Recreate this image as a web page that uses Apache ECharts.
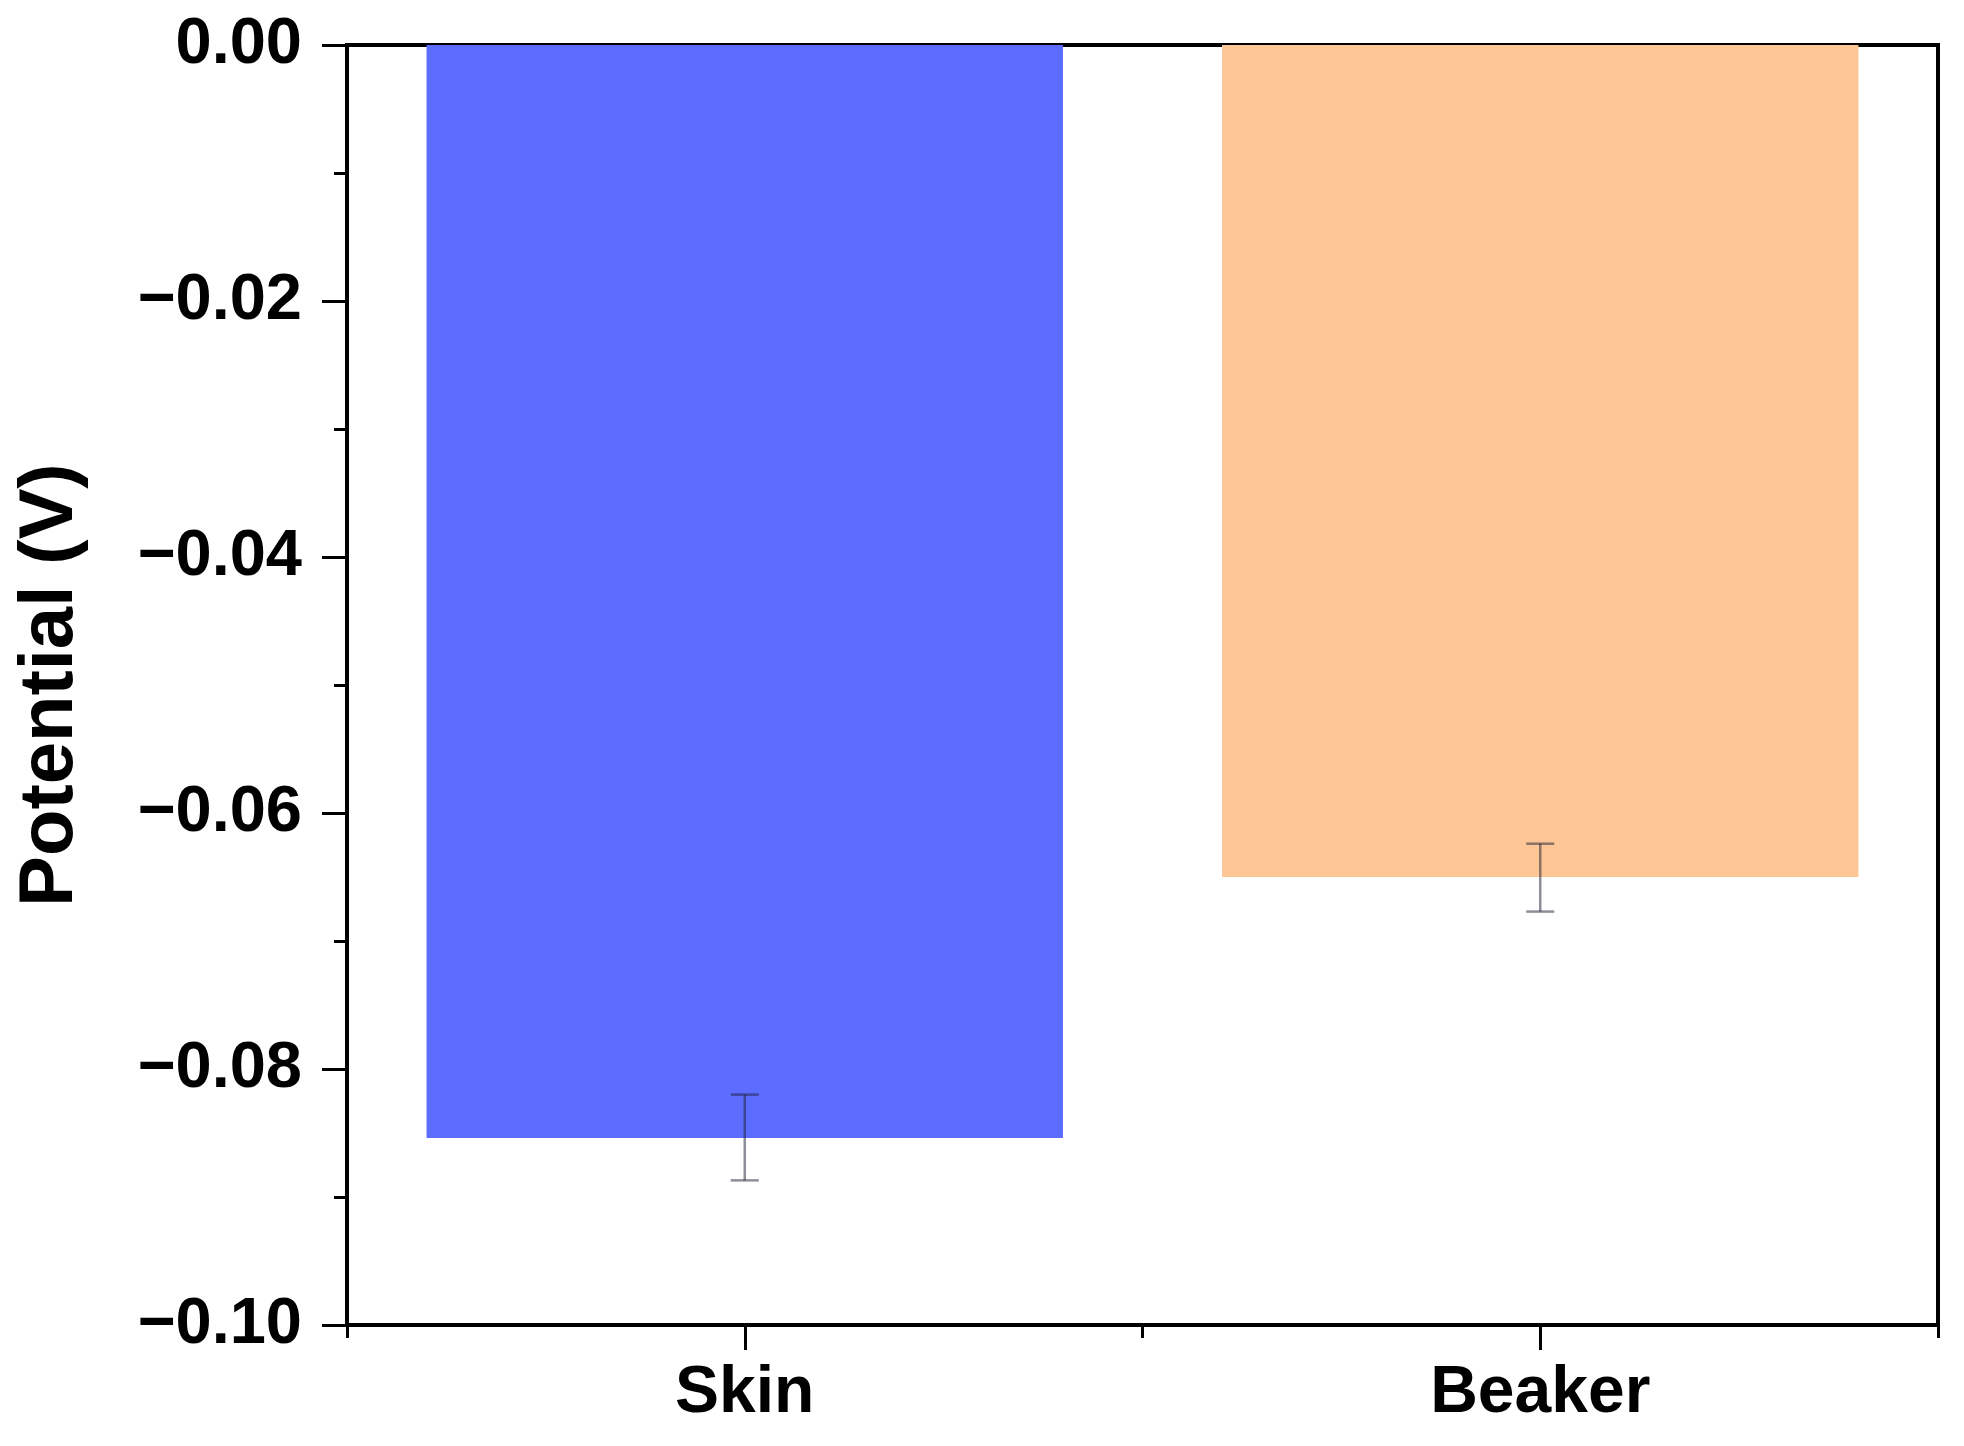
<!DOCTYPE html>
<html>
<head>
<meta charset="utf-8">
<script src="https://cdn.jsdelivr.net/npm/echarts@6/dist/echarts.min.js"></script>
<style>html,body{margin:0;padding:0;background:#fff;}#c{width:1964px;height:1446px;}</style>
</head>
<body>
<div id="c"></div>
<script>
const categories = ['Skin', 'Beaker'];
const potentials = [-0.0854, -0.0650];
const errLow = [-0.0887, -0.0677];
const errHigh = [-0.0820, -0.0624];
const barColors = ['#5B6CFF', '#FDC697'];
const yTicks = { min: -0.10, max: 0, interval: 0.02 };

const FONT = '"Liberation Sans", Arial, Helvetica, sans-serif';
const chart = echarts.init(document.getElementById('c'), null, { renderer: 'canvas' });

const fmt = v => {
  const s = Math.abs(v).toFixed(2);
  return (v < -1e-9 ? '\u2212' : '') + s;
};

chart.setOption({
  animation: false,
  backgroundColor: '#fff',
  grid: { left: 347, right: 26, top: 45, bottom: 121, show: true, borderColor: '#000', borderWidth: 4, backgroundColor: 'transparent' },
  xAxis: [
    {
      type: 'category', data: categories, position: 'bottom',
      axisLine: { show: true, onZero: false, lineStyle: { color: '#000', width: 4 } },
      axisTick: { show: true, alignWithLabel: true, interval: 0, length: 25, lineStyle: { color: '#000', width: 3 } },
      axisLabel: { color: '#000', fontSize: 66, fontWeight: 'bold', fontFamily: FONT, margin: 36, interval: 0 },
      splitLine: { show: false }
    },
    {
      type: 'value', min: 0, max: 2, interval: 1, position: 'bottom', gridIndex: 0,
      axisLine: { show: false, onZero: false },
      axisTick: { show: true, length: 13, lineStyle: { color: '#000', width: 3 } },
      axisLabel: { show: false },
      splitLine: { show: false }
    }
  ],
  yAxis: {
    type: 'value', min: yTicks.min, max: yTicks.max, interval: yTicks.interval,
    name: 'Potential (V)', nameLocation: 'middle', nameRotate: 90, nameGap: 258,
    nameTextStyle: { color: '#000', fontSize: 76, fontWeight: 'bold', fontFamily: FONT },
    axisLine: { show: true, onZero: false, lineStyle: { color: '#000', width: 4 } },
    axisTick: { show: true, length: 25, lineStyle: { color: '#000', width: 3 } },
    minorTick: { show: true, splitNumber: 2, length: 13, lineStyle: { color: '#000', width: 3 } },
    axisLabel: { color: '#000', fontSize: 65, fontWeight: 'bold', fontFamily: FONT, margin: 45, formatter: fmt },
    splitLine: { show: false }
  },
  series: [
    {
      type: 'bar', xAxisIndex: 0, barWidth: '80%',
      data: potentials.map((v, i) => ({ value: v, itemStyle: { color: barColors[i] } })),
      z: 2
    },
    {
      type: 'custom', xAxisIndex: 0, z: 5,
      data: categories.map((c, i) => [i, errLow[i], errHigh[i]]),
      renderItem: function (params, api) {
        const x = api.value(0);
        const lo = api.coord([x, api.value(1)]);
        const hi = api.coord([x, api.value(2)]);
        const hw = 14;
        const st = { stroke: 'rgba(30,30,50,0.5)', lineWidth: 2.5 };
        return {
          type: 'group',
          children: [
            { type: 'line', shape: { x1: lo[0], y1: lo[1], x2: hi[0], y2: hi[1] }, style: st },
            { type: 'line', shape: { x1: lo[0] - hw, y1: lo[1], x2: lo[0] + hw, y2: lo[1] }, style: st },
            { type: 'line', shape: { x1: hi[0] - hw, y1: hi[1], x2: hi[0] + hw, y2: hi[1] }, style: st }
          ]
        };
      }
    }
  ]
});
</script>
</body>
</html>
